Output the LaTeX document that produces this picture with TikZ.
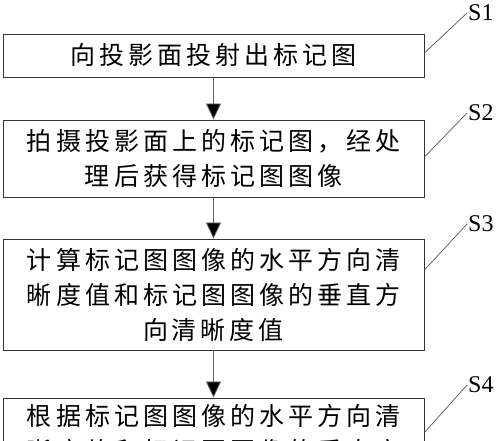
\documentclass[tikz,border=0pt]{standalone}
\usepackage{fontspec}
\setmainfont{Liberation Serif}
\newfontfamily\cjk[LetterSpace=16]{Noto Sans CJK SC}
\usetikzlibrary{arrows.meta}
\tikzset{
  stepbox/.style={draw=black!80, line width=0.9pt, minimum width=421pt, inner sep=0pt,
    align=center, font=\cjk\fontsize{25pt}{35pt}\selectfont, text=black},
  flow/.style={draw=black!60, line width=0.8pt, -{Triangle[length=16pt,width=15pt,fill=black]}},
  leader/.style={draw=black!65, line width=0.7pt},
  steplabel/.style={font=\fontsize{24pt}{24pt}\selectfont, inner sep=1pt, anchor=west}
}
\begin{document}
\begin{tikzpicture}[x=1pt,y=-1pt]
\useasboundingbox (0,0) rectangle (500,441);
\clip (0,0) rectangle (500,441);
\fill[white] (0,0) rectangle (500,441);
\node[stepbox, minimum height=43pt] (b1) at (213.5,55.5) {向投影面投射出标记图};
\node[stepbox, minimum height=77pt] (b2) at (213.5,158.5) {拍摄投影面上的标记图，经处\\理后获得标记图图像};
\node[stepbox, minimum height=111pt] (b3) at (213.5,294.5) {计算标记图图像的水平方向清\\晰度值和标记图图像的垂直方\\向清晰度值};
\node[stepbox, minimum height=71pt] (b4) at (213.5,433.5) {根据标记图图像的水平方向清\\晰度值和标记图图像的垂直方};
\draw[flow] (b1.south) -- (b2.north);
\draw[flow] (b2.south) -- (b3.north);
\draw[flow] (b3.south) -- (b4.north);
\node[steplabel] (s1) at (467,13) {S1};
\node[steplabel] (s2) at (467,113) {S2};
\node[steplabel] (s3) at (467,224) {S3};
\node[steplabel] (s4) at (467,385) {S4};
\draw[leader] ([yshift=2.5pt]b1.east) -- (s1.west);
\draw[leader] ([yshift=1.5pt]b2.east) -- (s2.west);
\draw[leader] ([yshift=24.5pt]b3.east) -- (s3.west);
\draw[leader] ([yshift=1pt]b4.east) -- (s4.west);
\end{tikzpicture}
\end{document}
